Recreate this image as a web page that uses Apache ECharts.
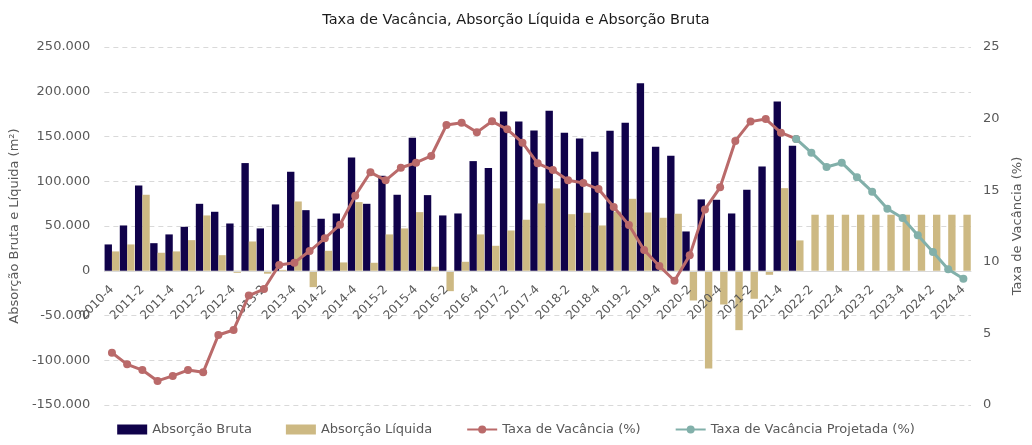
<!DOCTYPE html>
<html>
<head>
<meta charset="utf-8">
<script src="https://cdn.jsdelivr.net/npm/echarts@6/dist/echarts.min.js"></script>
<style>
  html, body { margin: 0; padding: 0; background: #fff; }
  #myChart { width: 1032px; height: 445px; }
</style>
</head>
<body>
<div id="myChart"></div>
<script>
var quarters = ['2010-4',
  '2011-1', '2011-2', '2011-3', '2011-4', '2012-1', '2012-2', '2012-3', '2012-4',
  '2013-1', '2013-2', '2013-3', '2013-4', '2014-1', '2014-2', '2014-3', '2014-4',
  '2015-1', '2015-2', '2015-3', '2015-4', '2016-1', '2016-2', '2016-3', '2016-4',
  '2017-1', '2017-2', '2017-3', '2017-4', '2018-1', '2018-2', '2018-3', '2018-4',
  '2019-1', '2019-2', '2019-3', '2019-4', '2020-1', '2020-2', '2020-3', '2020-4',
  '2021-1', '2021-2', '2021-3', '2021-4', '2022-1', '2022-2', '2022-3', '2022-4',
  '2023-1', '2023-2', '2023-3', '2023-4', '2024-1', '2024-2', '2024-3', '2024-4'];

// absorção bruta (m²)
var bruta = [29400, 50600, 95300, 30800, 40600, 49100, 74800, 65900, 52800,
  120300, 47300, 74100, 110600, 67700, 58100, 64000, 126600,
  74800, 106100, 84900, 148600, 84500, 61800, 64000, 122500,
  114700, 178000, 166800, 156800, 178800, 154200, 147800, 133000,
  156400, 165300, 209600, 138500, 128500, 43900, 79700, 79300,
  64000, 90500, 116500, 189200, 139700, null, null, null,
  null, null, null, null, null, null, null, null];

// absorção líquida (m²)
var liquida = [21600, 29400, 84900, 20100, 21600, 34200, 61800, 17400, -2300,
  32700, -3300, 1000, 77400, -18300, 22300, 9300, 76700,
  8900, 40600, 47300, 65500, 4500, -22800, 10000, 40600,
  27900, 45000, 57000, 75200, 92000, 63200, 64800, 50600,
  66000, 80400, 65100, 59200, 63700, -33200, -109200, -37700,
  -66400, -31300, -4500, 92300, 33900, 62600, 62600, 62600,
  62600, 62600, 62600, 62600, 62600, 62600, 62600, 62600];

// taxa de vacância (%)
var vacancia = [3.65, 2.84, 2.44, 1.68, 2.03, 2.44, 2.28, 4.89, 5.24,
  7.64, 8.10, 9.78, 9.94, 10.75, 11.64, 12.59, 14.62,
  16.25, 15.69, 16.57, 16.92, 17.39, 19.55, 19.71, 19.04,
  19.81, 19.25, 18.32, 16.88, 16.41, 15.69, 15.50, 15.08,
  13.83, 12.57, 10.82, 9.71, 8.68, 10.45, 13.66, 15.20,
  18.44, 19.79, 19.97, 19.02, 18.58, null, null, null,
  null, null, null, null, null, null, null, null];

// taxa de vacância projetada (%)
var projetada = [null, null, null, null, null, null, null, null, null,
  null, null, null, null, null, null, null, null,
  null, null, null, null, null, null, null, null,
  null, null, null, null, null, null, null, null,
  null, null, null, null, null, null, null, null,
  null, null, null, null, 18.58, 17.62, 16.62, 16.92,
  15.90, 14.90, 13.71, 13.06, 11.85, 10.68, 9.48, 8.82];

var fontFamily = 'DejaVu Sans';
var gray = '#595959';

var gridTop = 47, gridBottom = 40, chartHeight = 445;
var leftMin = -150000, leftMax = 250000;
// category labels sit on the zero line, not at the bottom edge
var plotHeight = chartHeight - gridTop - gridBottom;
var zeroOffset = -plotHeight * (0 - leftMin) / (leftMax - leftMin);

function fmtThousands(v) {
  return String(v).replace(/\B(?=(\d{3})+(?!\d))/g, '.');
}

var myChart = echarts.init(document.getElementById('myChart'));

var option = {
  animation: false,
  textStyle: { fontFamily: fontFamily },
  title: {
    text: 'Taxa de Vacância, Absorção Líquida e Absorção Bruta',
    left: 'center',
    top: 8,
    textStyle: { fontFamily: fontFamily, fontSize: 14.5, fontWeight: 'normal', color: '#1a1a1a' }
  },
  legend: {
    bottom: 4,
    left: 'center',
    itemWidth: 30,
    itemHeight: 10,
    itemGap: 34,
    textStyle: { fontFamily: fontFamily, fontSize: 13, color: gray },
    data: [
      { name: 'Absorção Bruta', icon: 'rect' },
      { name: 'Absorção Líquida', icon: 'rect' },
      'Taxa de Vacância (%)',
      'Taxa de Vacância Projetada (%)'
    ]
  },
  grid: { left: 101, right: 58, top: gridTop, bottom: gridBottom, containLabel: false },
  xAxis: {
    type: 'category',
    data: quarters,
    offset: zeroOffset,
    zlevel: 1,
    z: 10,
    axisLine: { onZero: false, lineStyle: { color: '#d9d9d9', width: 1 } },
    axisTick: { show: false },
    axisLabel: {
      interval: 1,
      rotate: 45,
      color: gray,
      fontSize: 12,
      fontFamily: fontFamily,
      margin: 17
    },
    splitLine: { show: false }
  },
  yAxis: [{
    type: 'value',
    min: leftMin,
    max: leftMax,
    interval: 50000,
    name: 'Absorção Bruta e Líquida (m²)',
    nameLocation: 'middle',
    nameGap: 78,
    nameTextStyle: { color: gray, fontSize: 13, fontFamily: fontFamily },
    axisLine: { show: false },
    axisTick: { show: false },
    axisLabel: { color: gray, fontSize: 13, fontFamily: fontFamily, margin: 14, formatter: fmtThousands },
    splitLine: { lineStyle: { color: '#d9d9d9', type: [5, 4] } }
  }, {
    type: 'value',
    min: 0,
    max: 25,
    interval: 5,
    name: 'Taxa de Vacância (%)',
    nameLocation: 'middle',
    nameGap: 40,
    nameTextStyle: { color: gray, fontSize: 13, fontFamily: fontFamily },
    axisLine: { show: false },
    axisTick: { show: false },
    axisLabel: { color: gray, fontSize: 13, fontFamily: fontFamily, margin: 12 },
    splitLine: { show: false }
  }],
  series: [{
    name: 'Absorção Bruta',
    type: 'bar',
    data: bruta,
    barGap: '0%',
    barCategoryGap: '3%',
    itemStyle: { color: '#10024a' }
  }, {
    name: 'Absorção Líquida',
    type: 'bar',
    data: liquida,
    itemStyle: { color: '#cdb983' }
  }, {
    name: 'Taxa de Vacância (%)',
    type: 'line',
    yAxisIndex: 1,
    zlevel: 2,
    data: vacancia,
    symbol: 'circle',
    symbolSize: 8,
    lineStyle: { color: '#ba6a6a', width: 3 },
    itemStyle: { color: '#ba6a6a' }
  }, {
    name: 'Taxa de Vacância Projetada (%)',
    type: 'line',
    yAxisIndex: 1,
    zlevel: 2,
    data: projetada,
    symbol: 'circle',
    symbolSize: 8,
    lineStyle: { color: '#82b0aa', width: 3 },
    itemStyle: { color: '#82b0aa' }
  }]
};

myChart.setOption(option);

window.onresize = function () {
  myChart.resize();
};
</script>
</body>
</html>
